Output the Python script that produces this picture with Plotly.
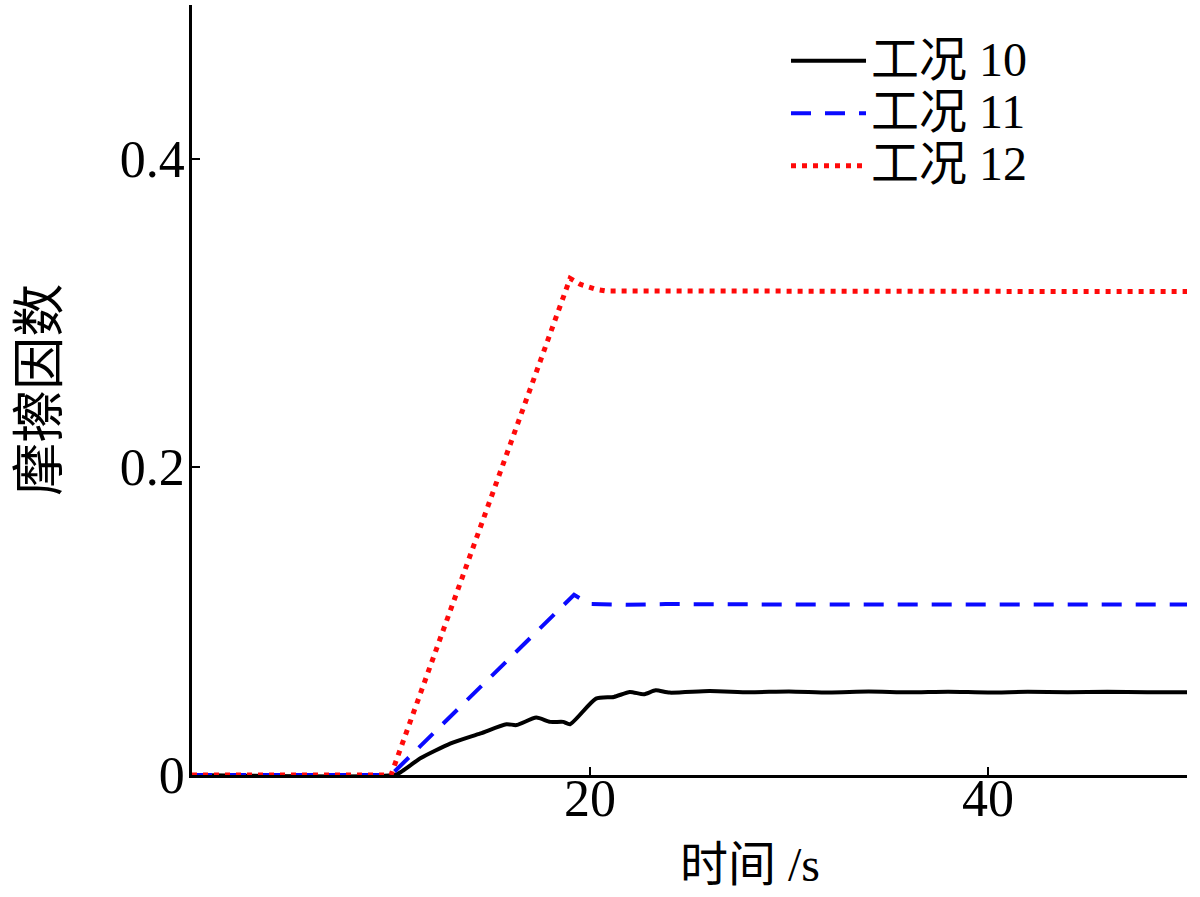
import plotly.graph_objects as go

# ---- data ----
t10 = [0, 10.2, 10.5, 11.5, 13.0, 14.5, 15.8, 16.3, 17.3, 18.0, 18.65, 19.0, 20.3, 21.2, 22.0, 22.7, 23.3, 24.0,
       26, 28, 30, 32, 34, 36, 38, 40, 42, 44, 46, 48, 50]
y10 = [0, 0, 0.002, 0.011, 0.0205, 0.027, 0.033, 0.0324, 0.0373, 0.0345, 0.0345, 0.033, 0.0496, 0.0507, 0.0539,
       0.0524, 0.055, 0.0535, 0.0545, 0.0538, 0.0543, 0.0536, 0.0542, 0.0537, 0.0541, 0.0536, 0.054, 0.0537,
       0.054, 0.0537, 0.0538]

t11 = [0, 10.0, 19.2, 20.0, 21.8, 23.8, 30, 40, 50]
y11 = [0, 0, 0.117, 0.111, 0.1105, 0.111, 0.1107, 0.1107, 0.1107]

t12 = [0, 10.0, 19.0, 19.5, 20.3, 20.8, 30, 40, 50]
y12 = [0, 0, 0.3225, 0.3187, 0.3154, 0.3143, 0.3142, 0.3140, 0.3139]

names = ["工况 10", "工况 11", "工况 12"]
xticks = [0, 20, 40, 50]
xticktext = ["", "20", "40", ""]
yticks = [0, 0.2, 0.4, 0.5]
yticktext = ["0", "0.2", "0.4", ""]

FONT = "Liberation Serif, 'Noto Sans CJK SC', serif"


def big(s):
    return '<span style="font-size:48px">' + s + '</span>'


fig = go.Figure()
fig.add_trace(go.Scatter(x=t10, y=y10, mode="lines", name=big(names[0]),
                         line=dict(color="black", width=4, shape="spline", smoothing=0.6)))
fig.add_trace(go.Scatter(x=t11, y=y11, mode="lines", name=big(names[1]),
                         line=dict(color="#0a0aff", width=4, dash="20px,14px")))
fig.add_trace(go.Scatter(x=t12, y=y12, mode="lines", name=big(names[2]),
                         line=dict(color="#ff0a0a", width=5, dash="5px,6px")))

fig.update_layout(
    width=1200, height=897,
    margin=dict(l=192, r=13, t=5, b=122),
    plot_bgcolor="white", paper_bgcolor="white",
    font=dict(family=FONT, size=52, color="black"),
    showlegend=True,
    legend=dict(x=0.597, y=0.968, xanchor="left", yanchor="top",
                font=dict(family=FONT, size=38, color="black"),
                bgcolor="rgba(0,0,0,0)", itemwidth=75, tracegroupgap=0),
    xaxis=dict(range=[0, 50], tickvals=xticks, ticktext=xticktext,
               ticks="inside", ticklen=8, tickwidth=2, tickcolor="black",
               showline=True, linecolor="black", linewidth=2.5,
               showgrid=False, zeroline=False, ticklabelstandoff=-24,
               tickfont=dict(family=FONT, size=52)),
    yaxis=dict(range=[0, 0.5], tickvals=yticks, ticktext=yticktext,
               ticks="inside", ticklen=8, tickwidth=2, tickcolor="black",
               showline=True, linecolor="black", linewidth=2.5,
               showgrid=False, zeroline=False, ticklabelstandoff=-6,
               tickfont=dict(family=FONT, size=52)),
    annotations=[
        dict(text="时间 /s", xref="paper", yref="paper", x=0.561, y=-0.1156,
             xanchor="center", yanchor="middle", showarrow=False,
             font=dict(family=FONT, size=48)),
        dict(text="摩擦因数", xref="paper", yref="paper", x=-0.153, y=0.5,
             xanchor="center", yanchor="middle", showarrow=False, textangle=-90,
             font=dict(family=FONT, size=53)),
    ],
)

fig.write_html("out.html")
